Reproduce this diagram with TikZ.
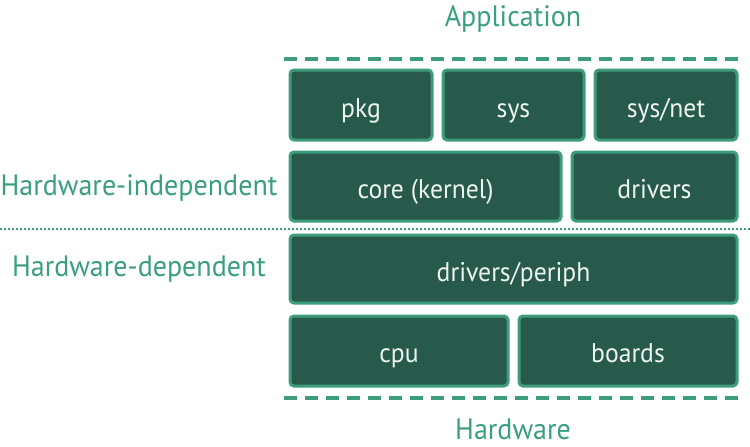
\documentclass[tikz,border=0pt]{standalone}
\usepackage{fontspec}
\setmainfont[FakeStretch=0.95]{PT Sans}
\definecolor{boxfill}{HTML}{275A4A}
\definecolor{boxedge}{HTML}{3E9C7E}
\definecolor{labelc}{HTML}{3A9E80}
\definecolor{boxtext}{HTML}{EEF4F1}
\begin{document}
\begin{tikzpicture}[x=1pt,y=-1pt,
  layer/.style={draw=boxedge, fill=boxfill, line width=3pt, rounded corners=4pt},
  boxlabel/.style={text=boxtext, anchor=base, inner sep=0pt, font=\fontsize{27}{30}\selectfont},
  sidelabel/.style={text=labelc, anchor=base, inner sep=0pt, font=\fontsize{29.5}{34}\selectfont},
  dashline/.style={draw=boxedge, line width=3.5pt, dash pattern=on 13pt off 8pt},
  dotline/.style={draw=boxedge, line width=2pt, dash pattern=on 2pt off 2pt}]
\useasboundingbox (0,0) rectangle (750,447);
% row 1
\draw[layer] (290,70) rectangle (432,140); \node[boxlabel] (pkg) at (361,117) {pkg};
\draw[layer] (443,70) rectangle (584,140); \node[boxlabel] (sys) at (513.5,117) {sys};
\draw[layer] (595,70) rectangle (737,140); \node[boxlabel] (sysnet) at (666,117) {sys/net};
% row 2
\draw[layer] (290,152) rectangle (561,221); \node[boxlabel] (core) at (425.5,198.5) {core (kernel)};
\draw[layer] (572,152) rectangle (737,221); \node[boxlabel] (drv) at (654.5,198.5) {drivers};
% row 3
\draw[layer] (290,235) rectangle (737,303); \node[boxlabel] (periph) at (513.5,281) {drivers/periph};
% row 4
\draw[layer] (290,316) rectangle (508,386); \node[boxlabel] (cpu) at (399,362) {cpu};
\draw[layer] (519,316) rectangle (737,386); \node[boxlabel] (boards) at (628,362) {boards};
% lines
\coordinate (d1a) at (284,59); \coordinate (d1b) at (740,59);
\draw[dashline] (d1a) -- (d1b);
\coordinate (d2a) at (284,398); \coordinate (d2b) at (740,398);
\draw[dashline] (d2a) -- (d2b);
\coordinate (d3a) at (0,229); \coordinate (d3b) at (750,229);
\draw[dotline] (d3a) -- (d3b);
% labels
\node[sidelabel] (app) at (513,27) {Application};
\node[sidelabel] (hw) at (513,439) {Hardware};
\node[sidelabel] (hwi) at (139,195) {Hardware-independent};
\node[sidelabel] (hwd) at (139,276) {Hardware-dependent};
\end{tikzpicture}
\end{document}
